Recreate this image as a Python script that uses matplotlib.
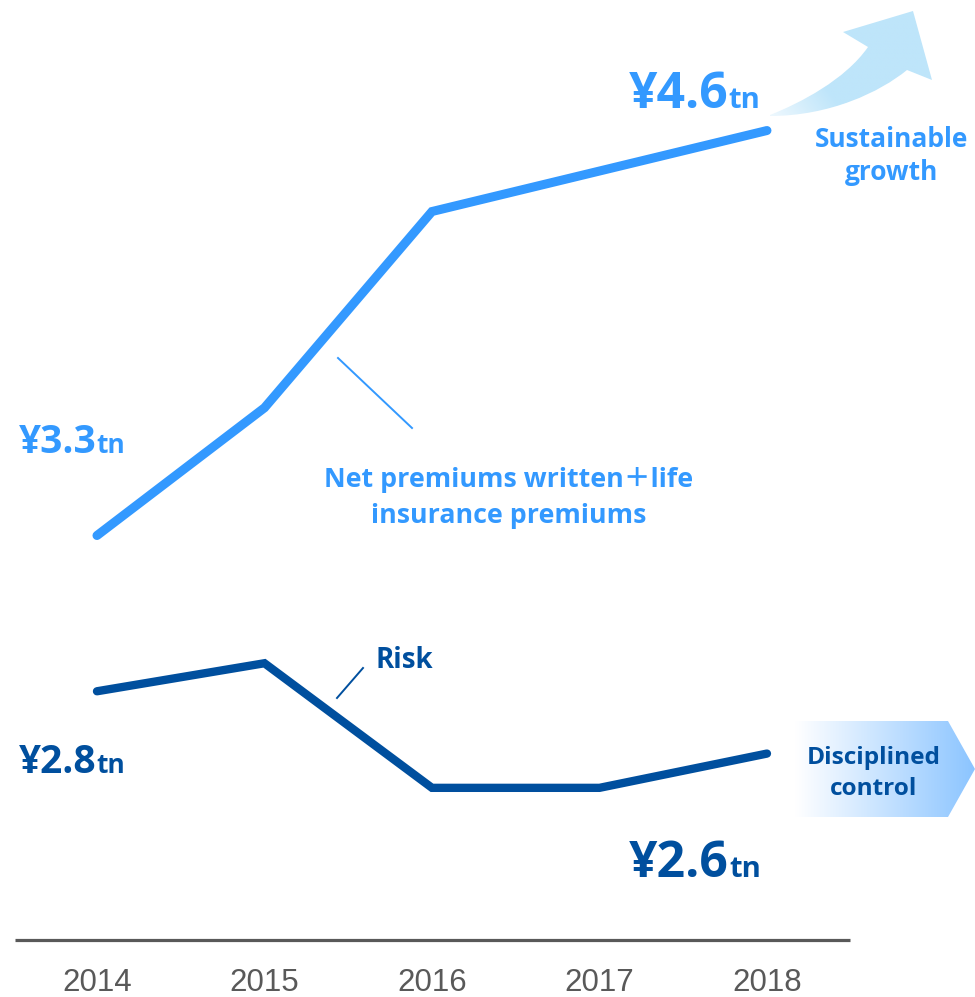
import matplotlib.pyplot as plt
import numpy as np
from matplotlib.path import Path
from matplotlib.patches import PathPatch
from matplotlib.colors import LinearSegmentedColormap
from matplotlib.transforms import blended_transform_factory

# values in trillion yen
years = [2014, 2015, 2016, 2017, 2018]
premiums = [3.3, 3.71, 4.34, 4.47, 4.6]
risk = [2.8, 2.89, 2.49, 2.49, 2.6]
year_labels = ['2014', '2015', '2016', '2017', '2018']

LIGHT = '#3399FF'
DARK = '#004F9E'
FONT = ['Open Sans', 'Noto Sans CJK JP', 'DejaVu Sans']
W, H = 975, 997

fig = plt.figure(figsize=(W / 100, H / 100), dpi=100)
ax = fig.add_axes([0, 0, 1, 1])
ax.set_xlim(2013.421, 2019.242)
ax.set_ylim(1.8186, 5.019)
ax.axis('off')

ax.plot(years, premiums, color=LIGHT, lw=6.5, solid_capstyle='round', solid_joinstyle='miter', zorder=3)
ax.plot(years, risk, color=DARK, lw=6.0, solid_capstyle='round', solid_joinstyle='miter', zorder=3)

# overlay in pixel coordinates for annotations
ov = fig.add_axes([0, 0, 1, 1], facecolor='none')
ov.set_xlim(0, W)
ov.set_ylim(H, 0)
ov.axis('off')

# baseline
ov.plot([15, 850], [940, 940], color='#595959', lw=2.3, solid_capstyle='butt')
trans = blended_transform_factory(ax.transData, ov.transData)
for yr, lab in zip(years, year_labels):
    ov.text(yr, 979, lab, transform=trans, ha='center', va='center_baseline',
            fontsize=22.5, color='#595959', family=['Liberation Sans', 'DejaVu Sans'])

# value labels
def value_label(x, y, main, size, small, color):
    t = ov.text(x, y, main, fontsize=size, fontweight='bold', color=color,
                family=FONT, ha='left', va='baseline')
    fig.canvas.draw()
    bb = t.get_window_extent()
    x2 = bb.x1 * W / fig.bbox.width
    ov.text(x2, y, 'tn', fontsize=small, fontweight='bold', color=color,
            family=FONT, ha='left', va='baseline')

value_label(19, 453, '¥3.3', 28, 19, LIGHT)
value_label(19, 773, '¥2.8', 28, 19, DARK)
value_label(629, 108, '¥4.6', 36, 21, LIGHT)
value_label(629, 877, '¥2.6', 36, 21, DARK)

# series labels with leader lines
ov.plot([338, 412], [358, 428], color=LIGHT, lw=1.4)
ov.text(509, 487, 'Net premiums written＋life', fontsize=19.3, fontweight='bold',
        color=LIGHT, family=FONT, ha='center', va='baseline')
ov.text(509, 523, 'insurance premiums', fontsize=19.3, fontweight='bold',
        color=LIGHT, family=FONT, ha='center', va='baseline')
ov.plot([337, 363], [698, 668], color=DARK, lw=1.4)
ov.text(375, 668, 'Risk', fontsize=20, fontweight='bold', color=DARK,
        family=FONT, ha='left', va='baseline')

# curved arrow with gradient
verts = [(770, 115), (800, 103), (845, 80), (868, 47), (843, 32), (913, 11),
         (932, 80), (907, 70), (880, 92), (830, 116), (770, 116), (770, 115)]
codes = [Path.MOVETO, Path.CURVE4, Path.CURVE4, Path.CURVE4, Path.LINETO, Path.LINETO,
         Path.LINETO, Path.LINETO, Path.CURVE4, Path.CURVE4, Path.CURVE4, Path.CLOSEPOLY]
arrow = PathPatch(Path(verts, codes), facecolor='none', edgecolor='none')
ov.add_patch(arrow)
gx, gy = np.meshgrid(np.linspace(760, 940, 200), np.linspace(0, 125, 140))
d = np.array([913 - 770, 11 - 115], dtype=float)
t = ((gx - 770) * d[0] + (gy - 115) * d[1]) / (d @ d)
t = np.clip(t / 0.35, 0, 1)
cm_arrow = LinearSegmentedColormap.from_list('arr', ['#EEF8FE', '#BEE5FA'])
im = ov.imshow(t, extent=(760, 940, 125, 0), cmap=cm_arrow, vmin=0, vmax=1,
               aspect='auto', zorder=1, interpolation='bilinear')
im.set_clip_path(arrow)
ov.text(892, 147, 'Sustainable', fontsize=19, fontweight='bold', color=LIGHT,
        family=FONT, ha='center', va='baseline')
ov.text(892, 180, 'growth', fontsize=19, fontweight='bold', color=LIGHT,
        family=FONT, ha='center', va='baseline')

# pentagon arrow with gradient
pent = PathPatch(Path([(795, 721), (948, 721), (975, 769), (948, 817), (795, 817), (795, 721)],
                      [Path.MOVETO] + [Path.LINETO] * 4 + [Path.CLOSEPOLY]),
                 facecolor='none', edgecolor='none')
ov.add_patch(pent)
grad = np.linspace(0, 1, 200)[None, :]
cm_pent = LinearSegmentedColormap.from_list('pent', ['#FFFFFF', '#8CC5FF'])
im2 = ov.imshow(grad, extent=(795, 975, 817, 721), cmap=cm_pent, aspect='auto',
                zorder=1, interpolation='bilinear')
im2.set_clip_path(pent)
ov.text(874, 764, 'Disciplined', fontsize=17.6, fontweight='bold', color=DARK,
        family=FONT, ha='center', va='baseline')
ov.text(874, 795, 'control', fontsize=17.6, fontweight='bold', color=DARK,
        family=FONT, ha='center', va='baseline')

ov.set_xlim(0, W)
ov.set_ylim(H, 0)
fig.savefig('out.png', dpi=100)
